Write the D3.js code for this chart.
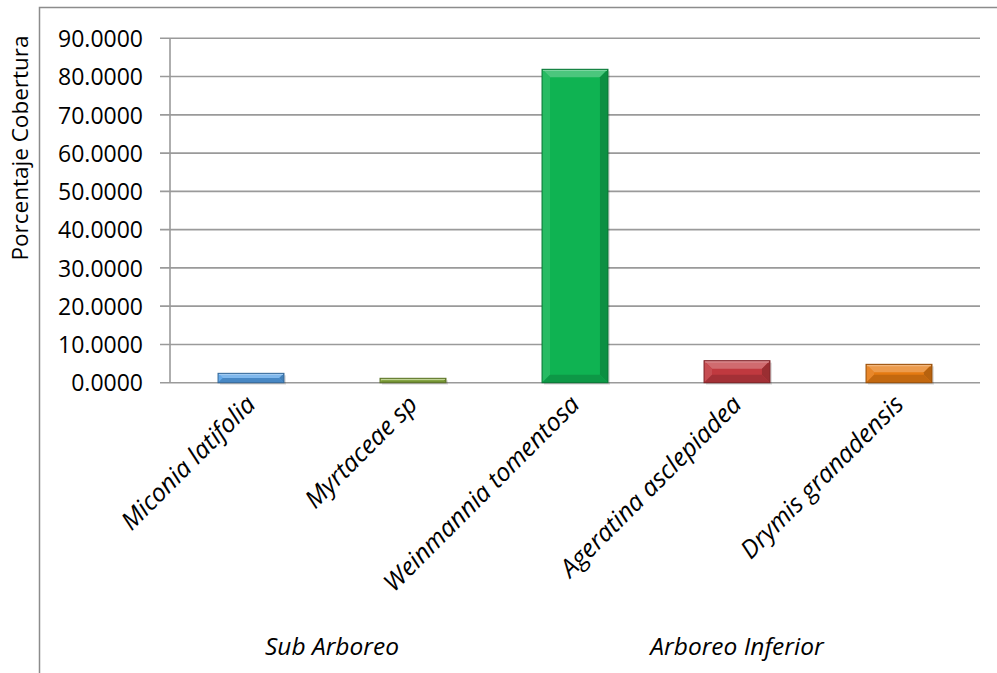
<!DOCTYPE html>
<html>
<head>
<meta charset="utf-8">
<script src="https://cdn.jsdelivr.net/npm/d3@7"></script>
<style>
  html, body { margin: 0; padding: 0; background: #fff; }
  svg { display: block; }
  text { font-family: "Open Sans", "DejaVu Sans", sans-serif; fill: #000; }
</style>
</head>
<body>
<svg id="chart" width="997" height="673"></svg>
<script>
// ---- data ----
const categories = ["Miconia latifolia", "Myrtaceae sp", "Weinmannia tomentosa", "Ageratina asclepiadea", "Drymis granadensis"];
const values = [2.45, 1.15, 81.9, 5.75, 4.8];
const groups = ["Sub Arboreo", "Sub Arboreo", "Arboreo Inferior", "Arboreo Inferior", "Arboreo Inferior"];
const groupNames = ["Sub Arboreo", "Arboreo Inferior"];
const yTicks = [0, 10, 20, 30, 40, 50, 60, 70, 80, 90];
const barColors = ["#55A0E6", "#8AAE3E", "#0FB352", "#C0393F", "#E57A12"];
const yTitle = "Porcentaje Cobertura";

// ---- layout ----
const svg = d3.select("#chart");
const plot = { left: 170, right: 980, top: 38.3, bottom: 382.7 };

svg.append("rect").attr("width", 997).attr("height", 673).attr("fill", "#fff");
// outer chart border
svg.append("path")
  .attr("d", `M39.5,673 L39.5,7.5 L997,7.5`)
  .attr("fill", "none").attr("stroke", "#8c8c8c").attr("stroke-width", 1.5);

const x = d3.scaleBand().domain(categories).range([plot.left, plot.right]).padding(0);
const y = d3.scaleLinear().domain([0, 90]).range([plot.bottom, plot.top]);

// gridlines
svg.append("g").selectAll("line").data(yTicks).join("line")
  .attr("x1", plot.left - 10).attr("x2", plot.right)
  .attr("y1", d => y(d)).attr("y2", d => y(d))
  .attr("stroke", "#9a9a9a").attr("stroke-width", 1.6);

// y axis line
svg.append("line")
  .attr("x1", plot.left).attr("x2", plot.left)
  .attr("y1", y(90)).attr("y2", y(0))
  .attr("stroke", "#9a9a9a").attr("stroke-width", 1.6);

// y tick labels
const yAxis = d3.axisLeft(y).tickValues(yTicks).tickFormat(d3.format(".4f")).tickSize(0).tickPadding(0);
const yg = svg.append("g").attr("transform", `translate(143,0)`).call(yAxis);
yg.select(".domain").remove();
yg.selectAll("text").attr("font-size", 23).attr("dy", "0.36em")
  .style("font-family", '"Open Sans", sans-serif').attr("fill", "#000");

// y title
svg.append("text")
  .attr("transform", `translate(28,148) rotate(-90)`)
  .attr("text-anchor", "middle")
  .attr("font-size", 22.5)
  .text(yTitle);

// bars with bevel
function shade(c, k) {
  const col = d3.color(c);
  return k > 0 ? d3.interpolateRgb(col, "#fff")(k) : d3.interpolateRgb(col, "#000")(-k);
}
const bw = x.bandwidth() * 0.407;
const bars = svg.append("g");
categories.forEach((cat, i) => {
  const v = values[i];
  const x0 = x(cat) + (x.bandwidth() - bw) / 2;
  const y0 = y(v);
  const h = y(0) - y0;
  const w = bw;
  const b = Math.min(8, h / 2, w / 2);
  const c = barColors[i];
  const g = bars.append("g");
  // shadow
  g.append("rect").attr("x", x0 + 2).attr("y", y0 + 2).attr("width", w).attr("height", h)
    .attr("fill", "#000").attr("opacity", 0.12);
  g.append("rect").attr("x", x0).attr("y", y0).attr("width", w).attr("height", h).attr("fill", c);
  const poly = (pts, fill) => g.append("polygon").attr("points", pts.map(p => p.join(",")).join(" ")).attr("fill", fill);
  poly([[x0, y0], [x0 + w, y0], [x0 + w - b, y0 + b], [x0 + b, y0 + b]], shade(c, 0.25));
  poly([[x0, y0], [x0 + b, y0 + b], [x0 + b, y0 + h - b], [x0, y0 + h]], shade(c, 0.1));
  poly([[x0 + w, y0], [x0 + w - b, y0 + b], [x0 + w - b, y0 + h - b], [x0 + w, y0 + h]], shade(c, -0.2));
  poly([[x0, y0 + h], [x0 + b, y0 + h - b], [x0 + w - b, y0 + h - b], [x0 + w, y0 + h]], shade(c, -0.15));
  // top highlight line
  g.append("line").attr("x1", x0 + 1).attr("x2", x0 + w - 1).attr("y1", y0 + 1.2).attr("y2", y0 + 1.2)
    .attr("stroke", shade(c, 0.45)).attr("stroke-width", 1.2);
  g.append("rect").attr("x", x0).attr("y", y0).attr("width", w).attr("height", h)
    .attr("fill", "none").attr("stroke", shade(c, -0.35)).attr("stroke-width", 1);
});

// category labels (rotated, italic)
svg.append("g").selectAll("text").data(categories).join("text")
  .attr("transform", d => `translate(${x(d) + x.bandwidth() / 2 + 6},${406}) rotate(-45)`)
  .attr("text-anchor", "end")
  .attr("font-style", "italic")
  .attr("font-size", 25)
  .text(d => d);

// group labels
groupNames.forEach(gn => {
  const cats = categories.filter((c, i) => groups[i] === gn);
  const gx0 = x(cats[0]);
  const gx1 = x(cats[cats.length - 1]) + x.bandwidth();
  svg.append("text")
    .attr("x", (gx0 + gx1) / 2).attr("y", 655)
    .attr("text-anchor", "middle")
    .attr("font-style", "italic")
    .attr("font-size", 24.5)
    .text(gn);
});
</script>
</body>
</html>
